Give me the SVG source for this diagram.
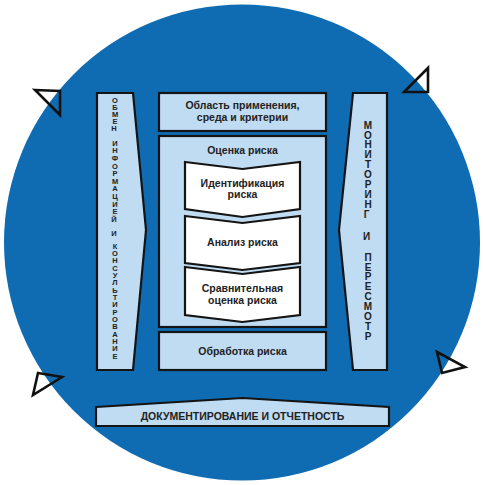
<svg xmlns="http://www.w3.org/2000/svg" width="483" height="485" viewBox="0 0 483 485">
<style>
.box{fill:#bfdcf3;stroke:#141414;stroke-width:2.2;stroke-linejoin:miter}
.chev{fill:#ffffff;stroke:#141414;stroke-width:2.2;stroke-linejoin:miter}
.tri{fill:none;stroke:#111;stroke-width:2.6;stroke-linejoin:miter}
.t{font-family:"Liberation Sans",Arial,sans-serif;font-weight:bold;font-size:10.5px;fill:#222;text-anchor:middle}
.vl{font-family:"Liberation Sans",Arial,sans-serif;font-weight:bold;font-size:7.5px;fill:#222;text-anchor:middle}
.vr{font-family:"Liberation Sans",Arial,sans-serif;font-weight:bold;font-size:10px;fill:#222;text-anchor:middle}
</style>
<rect width="483" height="485" fill="#ffffff"/>
<circle cx="242" cy="242.5" r="238" fill="#0f6cb2"/>
<g id="connectors">
<path class="tri" d="M35,90 L60,91 L60,115 Z"/>
<path class="tri" d="M428,68 L428,92 L404,92 Z"/>
<path class="tri" d="M38,373 L62,377 L33,395 Z"/>
<path class="tri" d="M437,352 L465,367 L442,373 Z"/>
</g>
<g id="node-communication">
<path class="box" d="M97,93 L133,93 L146,230 L133,370 L97,370 Z"/>
<text class="vl">
<tspan x="115" y="102.7">О</tspan><tspan x="115" y="109.8">Б</tspan><tspan x="115" y="116.9">М</tspan><tspan x="115" y="124">Е</tspan><tspan x="115" y="131.1">Н</tspan>
<tspan x="115" y="145.7">И</tspan><tspan x="115" y="153.3">Н</tspan><tspan x="115" y="160.9">Ф</tspan><tspan x="115" y="168.5">О</tspan><tspan x="115" y="176.1">Р</tspan><tspan x="115" y="183.7">М</tspan><tspan x="115" y="191.3">А</tspan><tspan x="115" y="198.9">Ц</tspan><tspan x="115" y="206.5">И</tspan><tspan x="115" y="214.1">Е</tspan><tspan x="115" y="221.7">Й</tspan>
<tspan x="115" y="235.7">И</tspan>
<tspan x="115" y="248.7">К</tspan><tspan x="115" y="256">О</tspan><tspan x="115" y="263.4">Н</tspan><tspan x="115" y="270.7">С</tspan><tspan x="115" y="278">У</tspan><tspan x="115" y="285.4">Л</tspan><tspan x="115" y="292.7">Ь</tspan><tspan x="115" y="300">Т</tspan><tspan x="115" y="307.4">И</tspan><tspan x="115" y="314.7">Р</tspan><tspan x="115" y="322">О</tspan><tspan x="115" y="329.4">В</tspan><tspan x="115" y="336.7">А</tspan><tspan x="115" y="344">Н</tspan><tspan x="115" y="351.4">И</tspan><tspan x="115" y="358.7">Е</tspan>
</text>
</g>
<g id="node-monitoring">
<path class="box" d="M353,93 L387,93 L387,370 L353,370 L339,230 Z"/>
<text class="vr">
<tspan x="368" y="128.6">М</tspan><tspan x="368" y="138.5">О</tspan><tspan x="368" y="148.4">Н</tspan><tspan x="368" y="158.3">И</tspan><tspan x="368" y="168.2">Т</tspan><tspan x="368" y="178.1">О</tspan><tspan x="368" y="188">Р</tspan><tspan x="368" y="197.9">И</tspan><tspan x="368" y="207.8">Н</tspan><tspan x="368" y="217.7">Г</tspan>
<tspan x="368" y="239.6">И</tspan>
<tspan x="368" y="260.6">П</tspan><tspan x="368" y="270.5">Е</tspan><tspan x="368" y="280.4">Р</tspan><tspan x="368" y="290.3">Е</tspan><tspan x="368" y="300.2">С</tspan><tspan x="368" y="310.1">М</tspan><tspan x="368" y="320">О</tspan><tspan x="368" y="329.9">Т</tspan><tspan x="368" y="339.8">Р</tspan>
</text>
</g>
<g id="node-context">
<rect class="box" x="159" y="93" width="167" height="38"/>
<text class="t" x="242.5" y="108.5">Область применения,</text>
<text class="t" x="242.5" y="120.5">среда и критерии</text>
</g>
<g id="node-assessment">
<rect class="box" x="159" y="136" width="167" height="191"/>
<text class="t" x="242.5" y="153.5">Оценка риска</text>
</g>
<g id="node-identification">
<path class="chev" d="M185,162 L242.5,169 L300,162 L300,209 L242.5,217 L185,209 Z"/>
<text class="t" x="242.5" y="186.5">Идентификация</text>
<text class="t" x="242.5" y="198">риска</text>
</g>
<g id="node-analysis">
<path class="chev" d="M185,216 L242.5,223 L300,216 L300,263 L242.5,270 L185,263 Z"/>
<text class="t" x="242.5" y="245.5">Анализ риска</text>
</g>
<g id="node-evaluation">
<path class="chev" d="M185,267 L242.5,274 L300,267 L300,315 L242.5,322 L185,315 Z"/>
<text class="t" x="242.5" y="292">Сравнительная</text>
<text class="t" x="242.5" y="303.5">оценка риска</text>
</g>
<g id="node-treatment">
<rect class="box" x="159" y="332" width="167" height="38"/>
<text class="t" x="242.5" y="355">Обработка риска</text>
</g>
<g id="node-documentation">
<path class="box" d="M96,407 L242.5,398 L389,407 L389,426 L96,426 Z"/>
<text class="t" x="242.5" y="420">ДОКУМЕНТИРОВАНИЕ И ОТЧЕТНОСТЬ</text>
</g>
</svg>
